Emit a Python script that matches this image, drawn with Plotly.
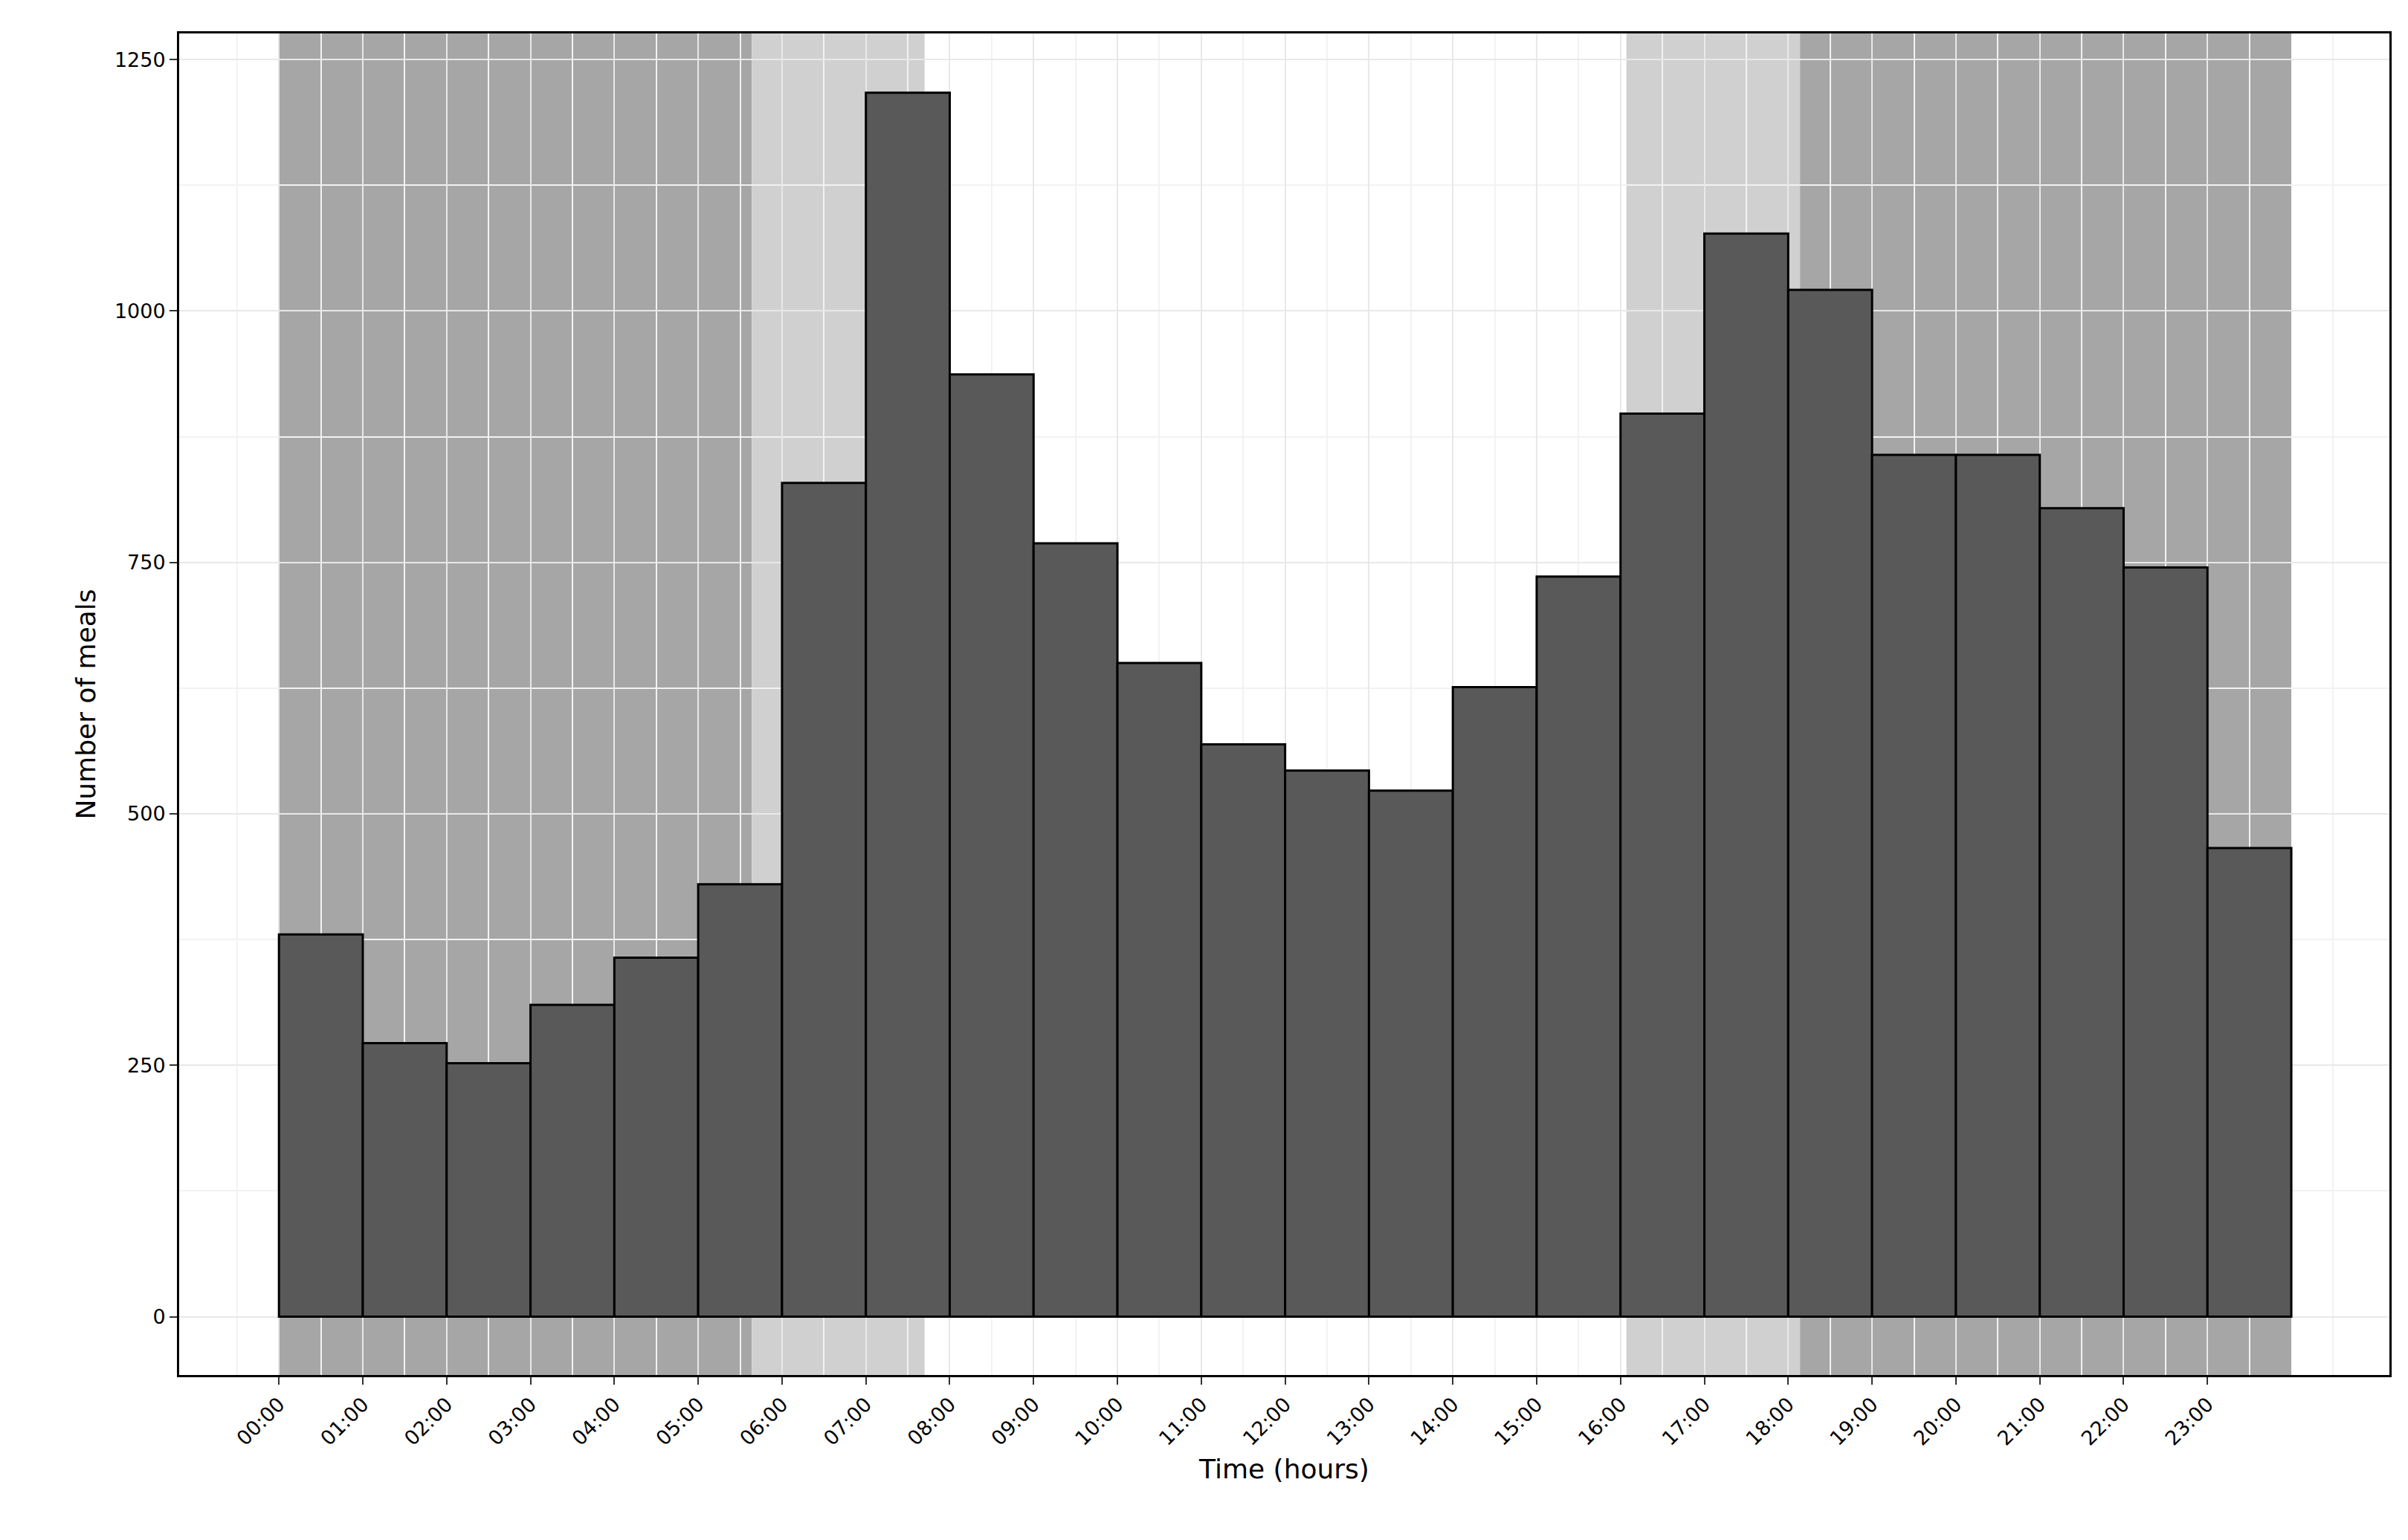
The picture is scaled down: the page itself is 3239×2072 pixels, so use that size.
import plotly.graph_objects as go

hours = list(range(24))
tick_labels = [f"{h:02d}:00" for h in hours]
meals = [380, 272, 252, 310, 357, 430, 829, 1217, 937, 769, 650, 569, 543, 523,
         626, 736, 898, 1077, 1021, 857, 857, 804, 745, 466]
dark_periods = [(0, 5.64), (18.14, 24)]
light_periods = [(5.64, 7.7), (16.07, 18.14)]

fig = go.Figure()
fig.add_trace(go.Bar(x=[h + 0.5 for h in hours], y=meals, width=1,
                     marker=dict(color="#595959", line=dict(color="black", width=3))))
for a, b in dark_periods:
    fig.add_shape(type="rect", xref="x", yref="paper", x0=a, x1=b, y0=0, y1=1,
                  fillcolor="#a6a6a6", line_width=0, layer="below")
for a, b in light_periods:
    fig.add_shape(type="rect", xref="x", yref="paper", x0=a, x1=b, y0=0, y1=1,
                  fillcolor="#d0d0d0", line_width=0, layer="below")

fig.update_layout(
    width=3239, height=2072, plot_bgcolor="white", paper_bgcolor="white",
    margin=dict(l=233, r=33, t=37, b=230), showlegend=False,
    font=dict(family="DejaVu Sans", color="black", size=27),
)
fig.update_xaxes(range=[-1.19, 25.17], tickvals=hours, ticktext=tick_labels, tickangle=-45,
                 ticks="outside", ticklen=10, tickwidth=2, tickcolor="#333",
                 showgrid=True, gridcolor="#e8e8e8", gridwidth=2,
                 minor=dict(showgrid=True, gridcolor="#f2f2f2", dtick=1, tick0=0.5),
                 showline=True, linecolor="black", linewidth=3, mirror=True,
                 title=dict(text="Time (hours)", font=dict(size=36)), zeroline=False)
fig.update_yaxes(range=[-58, 1276], tickvals=[0, 250, 500, 750, 1000, 1250],
                 ticks="outside", ticklen=10, tickwidth=2, tickcolor="#333",
                 showgrid=True, gridcolor="#e8e8e8", gridwidth=2,
                 minor=dict(showgrid=True, gridcolor="#f2f2f2", dtick=125, tick0=125),
                 showline=True, linecolor="black", linewidth=3, mirror=True,
                 title=dict(text="Number of meals", font=dict(size=36)), zeroline=False)
fig.write_html("out.html")
